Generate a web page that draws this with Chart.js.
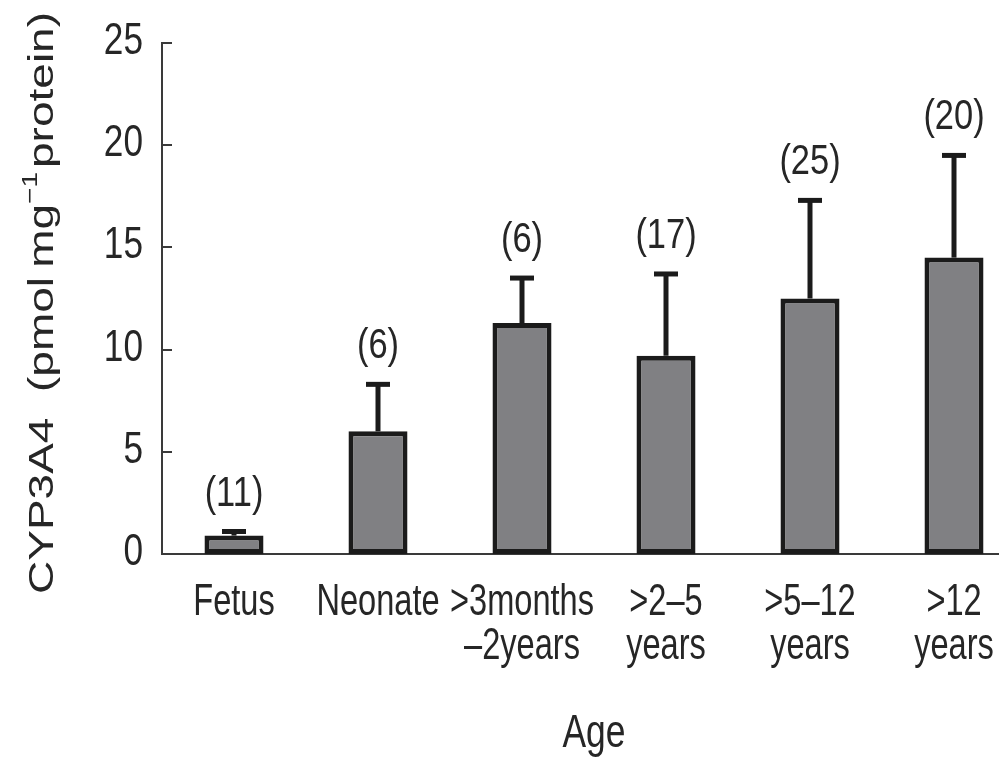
<!DOCTYPE html>
<html>
<head>
<meta charset="utf-8">
<script src="https://cdn.jsdelivr.net/npm/chart.js@4"></script>
<style>
  html, body { margin: 0; padding: 0; background: #fff; overflow: hidden; }
  #wrap { width: 1030px; height: 759px; }
</style>
</head>
<body>
<div id="wrap"><canvas id="cyp" width="1030" height="759"></canvas></div>
<script>
// CYP3A4 content by age group: mean with upward SD, n per group
const ageGroups = ['Fetus', 'Neonate', ['>3months', '\u20132years'], ['>2\u20135', 'years'], ['>5\u201312', 'years'], ['>12', 'years']];
const meanActivity = [0.9, 6.0, 11.3, 9.7, 12.5, 14.5];
const sdActivity = [0.2, 2.3, 2.2, 4.0, 4.8, 5.0];
const sampleSizes = [11, 6, 6, 17, 25, 20];
const yTicks = [0, 5, 10, 15, 20, 25];

const sans = '"Liberation Sans", Arial, Helvetica, sans-serif';
const ink = '#262626';

// horizontally squeezed text, like a condensed Helvetica
function squeezed(ctx, text, x, y, size, squeeze, align) {
  ctx.save();
  ctx.font = size + 'px ' + sans;
  ctx.fillStyle = ink;
  ctx.textBaseline = 'alphabetic';
  ctx.textAlign = align || 'center';
  ctx.translate(x, y);
  ctx.scale(squeeze, 1);
  ctx.fillText(text, 0, 0);
  ctx.restore();
}

// SD whiskers with caps, and the (n) over each one
const errorBars = {
  id: 'errorBars',
  afterDatasetsDraw(chart) {
    const ctx = chart.ctx;
    const yScale = chart.scales.y;
    const meta = chart.getDatasetMeta(0);
    ctx.save();
    meta.data.forEach((bar, i) => {
      const top = yScale.getPixelForValue(meanActivity[i] + sdActivity[i]);
      ctx.strokeStyle = '#1b1b1b';
      ctx.lineWidth = 5;
      ctx.lineCap = 'butt';
      ctx.beginPath();
      ctx.moveTo(bar.x, bar.y);
      ctx.lineTo(bar.x, top);
      ctx.stroke();
      ctx.beginPath();
      ctx.moveTo(bar.x - 12, top);
      ctx.lineTo(bar.x + 12, top);
      ctx.stroke();
      squeezed(ctx, '(' + sampleSizes[i] + ')', bar.x, top - 26, 42, 0.82);
    });
    ctx.restore();
  }
};

// tick marks, tick labels and titles for both axes
const axisText = {
  id: 'axisText',
  afterDraw(chart) {
    const { ctx, chartArea } = chart;
    const xScale = chart.scales.x;
    const yScale = chart.scales.y;

    ctx.save();
    ctx.strokeStyle = '#3a3a3a';
    ctx.lineWidth = 2;
    yTicks.forEach(v => {
      const py = Math.round(yScale.getPixelForValue(v));
      ctx.beginPath();
      ctx.moveTo(chartArea.left, py);
      ctx.lineTo(chartArea.left + 10, py);
      ctx.stroke();
      squeezed(ctx, String(v), chartArea.left - 19, py + 11, 44, 0.8, 'right');
    });
    ctx.restore();

    ageGroups.forEach((label, i) => {
      const px = xScale.getPixelForTick(i);
      const lines = Array.isArray(label) ? label : [label];
      lines.forEach((line, k) => {
        squeezed(ctx, line, px, 615 + k * 44, 44, 0.74);
      });
    });

    squeezed(ctx, 'Age', (chartArea.left + chartArea.right) / 2, 747, 46, 0.77);

    const partA = 'CYP3A4  (pmol\u2009mg';
    const sup = '\u22121';
    const partB = 'protein)';
    ctx.save();
    ctx.fillStyle = ink;
    ctx.textBaseline = 'alphabetic';
    ctx.textAlign = 'left';
    ctx.font = '46px ' + sans;
    const wA = ctx.measureText(partA).width;
    const wB = ctx.measureText(partB).width;
    ctx.font = '28px ' + sans;
    const wS = ctx.measureText(sup).width;
    const total = wA + wS + 4 + wB;
    ctx.translate(53, 303);
    ctx.rotate(-Math.PI / 2);
    ctx.scale(1, 0.78);
    let x = -total / 2;
    ctx.font = '46px ' + sans;
    ctx.fillText(partA, x, 0);
    x += wA;
    ctx.font = '28px ' + sans;
    ctx.fillText(sup, x, -20);
    x += wS + 4;
    ctx.font = '46px ' + sans;
    ctx.fillText(partB, x, 0);
    ctx.restore();
  }
};

new Chart(document.getElementById('cyp'), {
  type: 'bar',
  data: {
    labels: ageGroups,
    datasets: [{
      data: meanActivity,
      backgroundColor: '#808083',
      borderColor: '#1b1b1b',
      borderWidth: 5,
      borderSkipped: false,
      categoryPercentage: 1,
      barPercentage: 0.41
    }]
  },
  options: {
    responsive: false,
    animation: false,
    devicePixelRatio: 1,
    layout: { padding: { top: 43, right: 4, left: 0, bottom: 0 } },
    plugins: {
      legend: { display: false },
      tooltip: { enabled: false }
    },
    scales: {
      x: {
        grid: { display: false, drawTicks: false },
        border: { display: true, color: '#3a3a3a', width: 2 },
        ticks: { display: false },
        afterFit(scale) { scale.height = 205; }
      },
      y: {
        min: 0,
        max: 25,
        grid: { display: false, drawTicks: false },
        border: { display: true, color: '#3a3a3a', width: 2 },
        ticks: { display: false, stepSize: 5 },
        afterFit(scale) { scale.width = 162; }
      }
    }
  },
  plugins: [errorBars, axisText]
});
</script>
</body>
</html>
